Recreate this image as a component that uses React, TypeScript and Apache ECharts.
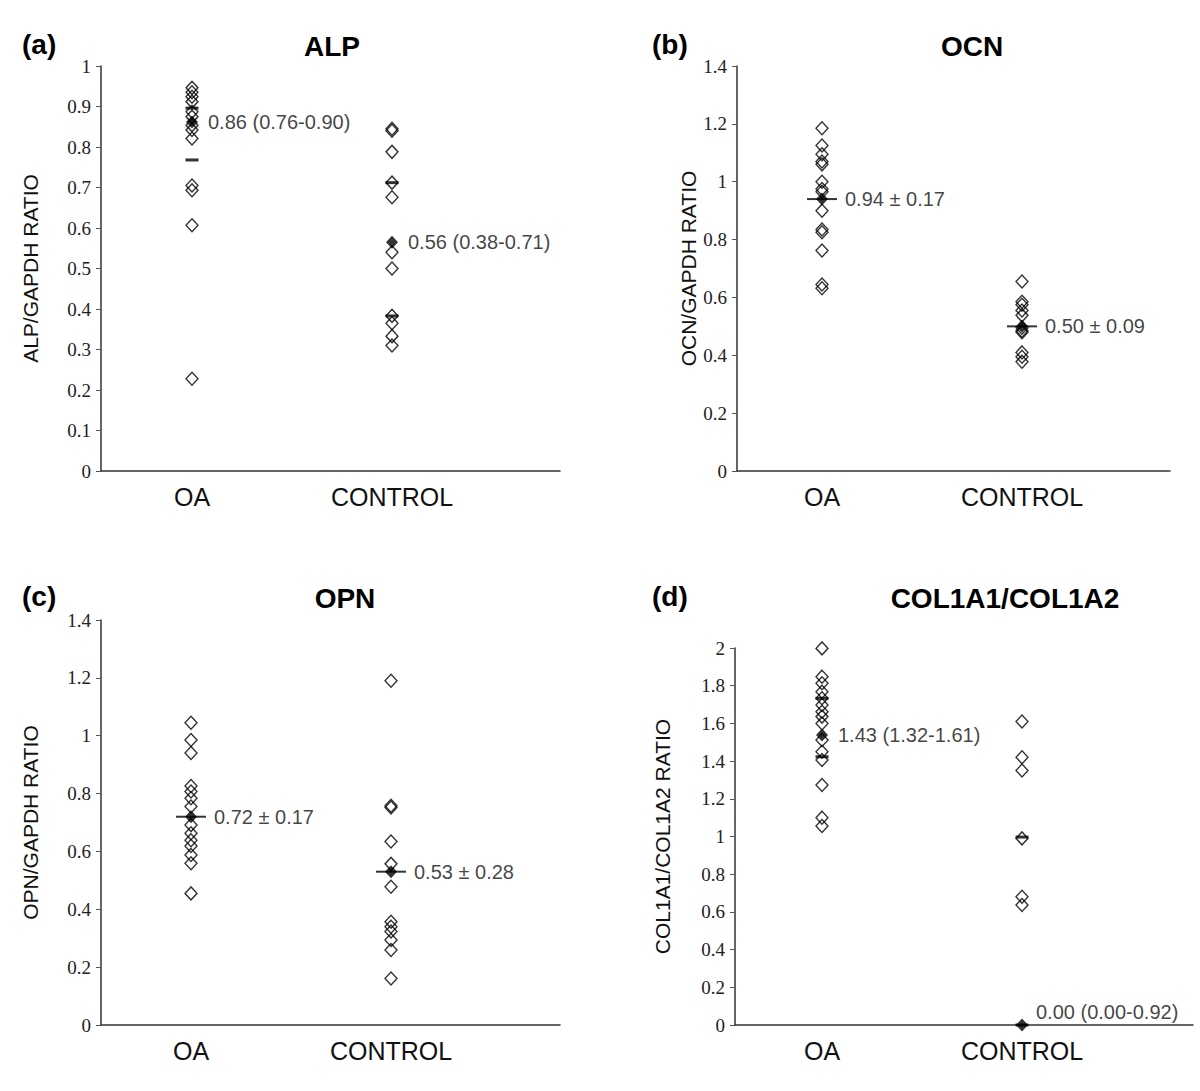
import React, { useEffect, useRef } from "react";
import * as echarts from "echarts";

// ---- data ----
const CATEGORIES = ["OA", "CONTROL"];
const PANEL_LETTERS = ["(a)", "(b)", "(c)", "(d)"];
const TITLES = ["ALP", "OCN", "OPN", "COL1A1/COL1A2"];
const Y_NAMES = ["ALP/GAPDH RATIO", "OCN/GAPDH RATIO", "OPN/GAPDH RATIO", "COL1A1/COL1A2 RATIO"];
const Y_MAX = [1, 1.4, 1.4, 2];
const Y_STEP = [0.1, 0.2, 0.2, 0.2];

const ALP_OA = [0.946, 0.935, 0.924, 0.912, 0.887, 0.875, 0.854, 0.842, 0.821, 0.705, 0.693, 0.607, 0.228];
const ALP_CTRL = [0.845, 0.84, 0.788, 0.712, 0.676, 0.54, 0.5, 0.383, 0.365, 0.333, 0.31];
const ALP_CENTER = [0.862, 0.565];
const ALP_Q = [[0.896, 0.768], [0.712, 0.383]];
const ALP_LABELS = ["0.86 (0.76-0.90)", "0.56 (0.38-0.71)"];

const OCN_OA = [1.185, 1.125, 1.095, 1.07, 1.06, 1.0, 0.975, 0.965, 0.9, 0.835, 0.825, 0.762, 0.645, 0.632];
const OCN_CTRL = [0.655, 0.585, 0.575, 0.555, 0.538, 0.495, 0.485, 0.48, 0.41, 0.395, 0.378];
const OCN_CENTER = [0.94, 0.5];
const OCN_LABELS = ["0.94 \u00b1 0.17", "0.50 \u00b1 0.09"];

const OPN_OA = [1.045, 0.985, 0.94, 0.826, 0.807, 0.784, 0.755, 0.691, 0.663, 0.639, 0.619, 0.588, 0.559, 0.455];
const OPN_CTRL = [1.19, 0.758, 0.752, 0.634, 0.557, 0.478, 0.357, 0.34, 0.323, 0.294, 0.259, 0.161];
const OPN_CENTER = [0.72, 0.53];
const OPN_LABELS = ["0.72 \u00b1 0.17", "0.53 \u00b1 0.28"];

const COL_OA = [1.998, 1.848, 1.813, 1.768, 1.733, 1.698, 1.662, 1.636, 1.6, 1.512, 1.45, 1.406, 1.273, 1.1, 1.056];
const COL_CTRL = [1.61, 1.42, 1.35, 0.99, 0.68, 0.637];
const COL_CENTER = [1.538, 0];
const COL_Q = [[1.733, 1.423], [0.997, 0]];
const COL_LABELS = ["1.43 (1.32-1.61)", "0.00 (0.00-0.92)"];

const PANELS = [
  { oa: ALP_OA, ctrl: ALP_CTRL, center: ALP_CENTER, q: ALP_Q, labels: ALP_LABELS, kind: "median" },
  { oa: OCN_OA, ctrl: OCN_CTRL, center: OCN_CENTER, q: null, labels: OCN_LABELS, kind: "mean" },
  { oa: OPN_OA, ctrl: OPN_CTRL, center: OPN_CENTER, q: null, labels: OPN_LABELS, kind: "mean" },
  { oa: COL_OA, ctrl: COL_CTRL, center: COL_CENTER, q: COL_Q, labels: COL_LABELS, kind: "median" },
];

// ---- layout ----
const GRIDS = [
  { left: 101, top: 66, width: 459, height: 405, xMin: 0.545, xMax: 2.84, nameGap: 60 },
  { left: 737, top: 66, width: 433, height: 405, xMin: 0.575, xMax: 2.74, nameGap: 38 },
  { left: 101, top: 620, width: 459, height: 405, xMin: 0.55, xMax: 2.845, nameGap: 60 },
  { left: 735, top: 648, width: 458, height: 377, xMin: 0.565, xMax: 2.855, nameGap: 62 },
];
const TITLE_POS = [
  { letter: [22, 46], title: [332, 46] },
  { letter: [652, 46], title: [972, 46] },
  { letter: [22, 598], title: [345, 598] },
  { letter: [652, 598], title: [1005, 598] },
];

const SANS = "Arial, 'Liberation Sans', sans-serif";
const SERIF = "'Times New Roman', 'Liberation Serif', serif";

function buildOption() {
  const grid: any[] = [];
  const xAxis: any[] = [];
  const yAxis: any[] = [];
  const series: any[] = [];
  const graphic: any[] = [];

  PANELS.forEach((p, i) => {
    const g = GRIDS[i];
    grid.push({ left: g.left, top: g.top, width: g.width, height: g.height, containLabel: false });
    xAxis.push({
      gridIndex: i,
      type: "value",
      min: g.xMin,
      max: g.xMax,
      axisLine: { show: true, onZero: false, lineStyle: { color: "#333", width: 1.5 } },
      axisTick: { show: false },
      splitLine: { show: false },
      axisLabel: {
        customValues: [1, 2],
        formatter: (v: number) => (Math.abs(v - 1) < 1e-6 ? CATEGORIES[0] : CATEGORIES[1]),
        fontFamily: SANS,
        fontSize: 25,
        color: "#111",
        margin: 13,
      },
    });
    yAxis.push({
      gridIndex: i,
      type: "value",
      min: 0,
      max: Y_MAX[i],
      interval: Y_STEP[i],
      axisLine: { show: true, lineStyle: { color: "#333", width: 1.5 } },
      axisTick: { show: true, length: 5, lineStyle: { color: "#555", width: 1 } },
      splitLine: { show: false },
      axisLabel: { fontFamily: SERIF, fontSize: 19, color: "#222", margin: 10 },
      name: Y_NAMES[i],
      nameLocation: "middle",
      nameGap: g.nameGap,
      nameTextStyle: { fontFamily: SANS, fontSize: 21, color: "#111" },
    });

    const pts = p.oa.map((v) => [1, v]).concat(p.ctrl.map((v) => [2, v]));
    series.push({
      type: "scatter",
      xAxisIndex: i,
      yAxisIndex: i,
      data: pts,
      symbol: "diamond",
      symbolSize: [12, 13],
      itemStyle: { color: "rgba(0,0,0,0)", borderColor: "#000", borderWidth: 1.4 },
      z: 2,
    });
    if (p.q) {
      series.push({
        type: "scatter",
        xAxisIndex: i,
        yAxisIndex: i,
        data: [[1, p.q[0][0]], [1, p.q[0][1]], [2, p.q[1][0]], [2, p.q[1][1]]],
        symbol: "rect",
        symbolSize: [13, 3],
        itemStyle: { color: "#000" },
        z: 3,
      });
    } else {
      series.push({
        type: "scatter",
        xAxisIndex: i,
        yAxisIndex: i,
        data: [[1, p.center[0]], [2, p.center[1]]],
        symbol: "rect",
        symbolSize: [30, 2],
        itemStyle: { color: "#000" },
        z: 3,
      });
    }
    const dist = p.kind === "mean" ? 17 : 10;
    series.push({
      type: "scatter",
      xAxisIndex: i,
      yAxisIndex: i,
      data: p.center.map((v, k) => {
        const item: any = { value: [k + 1, v] };
        if (i === 3 && k === 1) {
          item.label = { position: "right", distance: 8, offset: [0, -13] };
        }
        return item;
      }),
      symbol: "diamond",
      symbolSize: [12, 13],
      itemStyle: { color: "#000" },
      label: {
        show: true,
        position: "right",
        distance: dist,
        fontFamily: SANS,
        fontSize: 20,
        color: "#111",
        formatter: (prm: any) => p.labels[prm.dataIndex],
      },
      z: 4,
    });

    const tp = TITLE_POS[i];
    graphic.push({
      type: "text",
      left: tp.letter[0],
      top: tp.letter[1] - 16,
      style: { text: PANEL_LETTERS[i], font: `bold 28px ${SANS}`, fill: "#000" },
    });
    graphic.push({
      type: "text",
      x: tp.title[0],
      y: tp.title[1],
      style: { text: TITLES[i], font: `bold 28px ${SANS}`, fill: "#000", align: "center", verticalAlign: "middle" },
    });
  });

  return {
    animation: false,
    backgroundColor: "#fff",
    grid,
    xAxis,
    yAxis,
    series,
    graphic,
  };
}

export default function App() {
  const ref = useRef<HTMLDivElement>(null);
  useEffect(() => {
    document.body.style.margin = "0";
    const chart = echarts.init(ref.current!, undefined, { renderer: "svg" });
    chart.setOption(buildOption() as any);
    return () => chart.dispose();
  }, []);
  return <div ref={ref} style={{ width: 1200, height: 1091, position: "absolute", left: 0, top: 0 }} />;
}
